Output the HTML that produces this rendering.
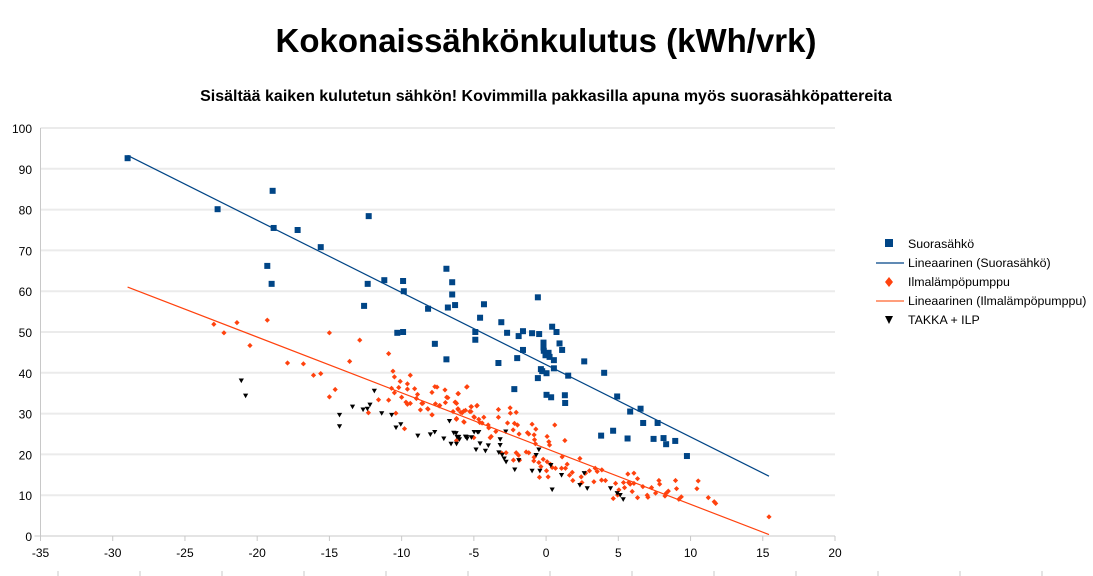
<!DOCTYPE html>
<html><head><meta charset="utf-8"><style>
html,body{margin:0;padding:0;background:#fff;}
svg{display:block;font-family:"Liberation Sans",sans-serif;}
</style></head><body>
<svg id="chart" width="1093" height="576" viewBox="0 0 1093 576">
<text x="546" y="52" text-anchor="middle" font-size="33" font-weight="bold">Kokonaissähkönkulutus (kWh/vrk)</text>
<text x="546" y="101" text-anchor="middle" font-size="16" font-weight="bold">Sisältää kaiken kulutetun sähkön! Kovimmilla pakkasilla apuna myös suorasähköpattereita</text>
<g id="grid"></g><g id="axes"></g><g id="marks"></g>
<g font-size="12.4">
<rect x="885" y="239" width="8" height="8" fill="#004586"/>
<text x="908" y="248">Suorasähkö</text>
<line x1="876" y1="263" x2="904" y2="263" stroke="#004586" stroke-width="1.3"/>
<text x="908" y="267">Lineaarinen (Suorasähkö)</text>
<path d="M889,277 L893,282 L889,287 L885,282Z" fill="#ff420e"/>
<text x="908" y="286">Ilmalämpöpumppu</text>
<line x1="876" y1="301" x2="904" y2="301" stroke="#ff7f50" stroke-width="1.5"/>
<text x="908" y="305">Lineaarinen (Ilmalämpöpumppu)</text>
<path d="M885,316 L893,316 L889,324Z" fill="#000"/>
<text x="908" y="324">TAKKA + ILP</text>
</g>
</svg>
<script>
const xTicks=[-35,-30,-25,-20,-15,-10,-5,0,5,10,15,20];
const yTicks=[0,10,20,30,40,50,60,70,80,90,100];
const blueX=[-28.97,-22.74,-18.93,-18.86,-17.2,-15.6,-19.3,-19.0,-12.28,-12.35,-12.6,-11.2,-9.9,-9.85,-10.3,-9.9,-8.17,-7.7,-6.9,-6.5,-6.5,-6.3,-6.8,-6.9,-4.9,-4.3,-4.57,-4.9,-3.1,-2.7,-3.3,-2.2,-2.0,-1.9,-1.6,-0.97,-0.48,-1.6,-0.57,-0.57,0.42,0.72,0.93,1.11,-0.18,-0.18,-0.16,-0.04,0.17,0.24,0.54,0.54,-0.36,-0.27,0.03,0.03,0.35,1.3,1.32,1.53,2.64,4.02,4.92,5.82,6.54,6.72,7.72,3.81,4.64,5.64,7.44,8.13,8.31,8.94,9.75];
const blueY=[92.6,80.1,84.6,75.5,75.0,70.8,66.2,61.8,78.4,61.8,56.4,62.7,62.5,60.0,49.8,50.0,55.7,47.1,65.5,62.2,59.2,56.6,56.0,43.3,50.0,56.8,53.5,48.1,52.4,49.8,42.4,36.0,43.6,49.0,50.2,49.7,49.5,45.6,38.7,58.5,51.3,50.0,47.2,45.6,47.4,46.2,45.4,44.3,44.9,43.9,43.1,41.1,40.9,40.4,39.9,34.6,34.0,34.5,32.6,39.3,42.8,40.0,34.2,30.5,31.2,27.7,27.7,24.6,25.8,23.9,23.8,24.0,22.5,23.3,19.6];
const ilpX=[-23.0,-22.3,-21.4,-20.5,-19.3,-17.9,-16.8,-16.1,-15.6,-15.0,-14.6,-15.0,-13.6,-12.9,-10.9,-10.6,-10.5,-10.1,-9.4,-9.6,-10.2,-10.7,-10.5,-10.0,-9.6,-9.1,-8.9,-8.98,-11.6,-10.9,-10.4,-9.8,-9.7,-9.6,-9.4,-8.6,-8.7,-8.2,-7.7,-7.55,-7.9,-7.4,-7.9,-7.0,-6.8,-6.1,-6.3,-6.2,-6.1,-5.9,-5.5,-5.7,-5.2,-5.2,-4.8,-5.0,-5.7,-6.2,-6.2,-5.0,-12.3,
-5.47,-6.88,-6.07,-8.54,-7.66,-6.97,-6.28,-7.36,-8.17,-7.89,-6.44,-6.09,-5.81,-5.58,-5.28,-5.17,-4.77,-4.96,-4.66,-4.31,-4.43,-4.01,-3.97,-4.59,-5.67,-6.21,-3.3,-3.3,-2.49,-2.47,-2.07,-2.67,-2.19,-1.98,-2.28,-1.87,-3.48,-3.80,-3.87,-3.07,-2.77,-2.07,-1.91,-2.26,-1.84,-1.29,-1.2,-0.83,-0.97,-0.71,-0.8,-0.74,0.07,0.19,0.24,0.6,1.3,-1.38,-1.2,-0.83,-0.85,-0.5,-0.36,-0.2,0.07,0.3,0.42,0.65,0.03,-0.46,0.14,1.11,1.07,1.34,1.46,1.81,1.62,1.85,2.34,2.43,2.48,2.73,3.0,3.4,3.54,3.86,3.84,4.11,3.31,4.81,5.04,4.95,4.65,5.36,5.43,5.66,5.71,5.82,6.08,6.08,5.96,6.33,6.33,6.7,7.0,7.05,7.3,7.58,7.81,7.86,8.23,8.32,8.46,8.96,9.03,9.19,9.36,10.44,10.53,11.23,11.64,11.74,15.43];
const ilpY=[51.9,49.8,52.3,46.7,52.9,42.4,42.2,39.4,39.8,49.8,35.9,34.1,42.8,48.0,44.7,40.4,39.0,37.9,39.4,37.3,36.4,36.2,35.1,34.0,36.0,36.1,34.7,33.7,33.4,33.3,30.1,26.3,32.8,32.3,32.5,32.5,30.9,31.2,36.6,36.5,35.2,31.9,29.7,35.8,33.9,34.9,32.8,32.5,31.2,30.3,36.5,30.6,30.5,31.7,31.9,29.2,28.0,28.8,23.4,24.1,30.2,
36.6,34.0,34.9,32.5,32.4,32.7,32.8,32.0,31.1,29.7,30.5,31.0,30.2,30.8,30.5,31.7,32.0,29.1,28.6,29.1,27.7,27.2,26.5,27.8,27.9,28.6,31.0,29.1,31.4,30.1,30.3,27.7,27.6,27.2,26.0,25.0,25.6,24.4,24.1,20.3,20.4,20.4,19.8,18.6,18.6,25.3,25.0,24.8,27.4,26.2,23.6,22.6,24.4,23.1,22.3,27.2,23.4,20.6,20.4,19.3,18.4,18.0,17.0,18.8,18.2,17.6,16.8,16.6,16.0,14.4,14.5,19.4,16.6,16.6,17.6,15.6,14.9,13.6,19.0,14.5,13.1,15.4,16.0,16.6,15.8,16.2,13.7,13.6,13.3,12.9,11.3,10.05,9.2,13.1,11.85,15.2,13.1,12.7,15.4,12.9,10.9,14.05,9.4,12.1,10.0,9.5,11.85,10.5,13.6,12.7,9.8,10.5,11.0,13.6,11.6,9.0,9.6,11.6,13.5,9.4,8.4,8.0,4.7];
const takkaX=[-21.1,-20.8,-14.3,-14.3,-13.4,-12.67,-12.37,-12.19,-11.89,-11.38,-10.69,-10.39,-10.06,-8.88,-8.01,-7.71,-7.08,-6.69,-6.58,-6.39,-6.23,-6.16,-6.05,-6.2,-6.0,-5.5,-5.17,-4.98,-4.75,-4.85,-5.58,-5.47,-4.66,-4.57,-4.2,-4.0,-3.18,-3.18,-2.79,-3.27,-3.04,-2.9,-2.77,-2.17,-1.89,-0.97,-0.69,-0.5,-0.43,0.33,0.42,1.07,2.64,2.34,2.85,4.46,5.13,5.34,4.92];
const takkaY=[38.1,34.4,29.7,26.9,31.7,31.0,31.2,32.2,35.6,30.1,29.7,26.6,27.4,24.6,24.9,25.5,23.9,28.2,22.6,25.3,25.2,24.3,24.3,22.6,23.7,24.3,24.2,25.5,25.5,21.2,24.35,23.9,25.5,22.7,20.9,22.2,23.7,22.3,25.6,20.5,19.9,19.0,18.2,16.3,18.6,16.0,19.85,21.2,16.0,17.4,11.4,14.95,15.4,12.5,11.7,11.7,10.05,9.0,10.5];

const NS='http://www.w3.org/2000/svg';
const L=40.5,R=835,T=128,B=536,xMin=-35,xMax=20,yMin=0,yMax=100;
function sx(v){return L+(v-xMin)/(xMax-xMin)*(R-L);}
function sy(v){return B-(v-yMin)/(yMax-yMin)*(B-T);}
function mk(tag,attrs,parent){const e=document.createElementNS(NS,tag);for(const k in attrs)e.setAttribute(k,attrs[k]);parent.appendChild(e);return e;}
const grid=document.getElementById('grid'),axes=document.getElementById('axes'),marks=document.getElementById('marks');
yTicks.forEach(v=>{
  if(v>0){const g=mk('line',{x1:L,x2:R,y1:sy(v),y2:sy(v),stroke:'#ebebeb','stroke-width':2},grid);
  
  }
  const t=mk('text',{x:32,y:sy(v)+5,'text-anchor':'end','font-size':12},axes);t.textContent=v;
  
  
});
xTicks.forEach(v=>{
  const tk=mk('line',{x1:sx(v),x2:sx(v),y1:B,y2:B+5,stroke:'#c8c8c8','stroke-width':1},axes);
  
  
  const t=mk('text',{x:sx(v),y:B+21,'text-anchor':'middle','font-size':12},axes);t.textContent=v;
  
  
});
const ya=mk('line',{x1:L,x2:L,y1:T,y2:B,stroke:'#c8c8c8','stroke-width':1},axes);


const xa=mk('line',{x1:L-6,x2:R,y1:B,y2:B,stroke:'#c8c8c8','stroke-width':1},axes);


for(let i=0;i<13;i++){const m=mk('line',{x1:58+i*82,x2:58+i*82,y1:571,y2:576,stroke:'#c8c8c8'},axes);

}

function regress(xs,ys){const n=xs.length;let mx=0,my=0;for(let i=0;i<n;i++){mx+=xs[i];my+=ys[i];}mx/=n;my/=n;let sxy=0,sxx=0;for(let i=0;i<n;i++){sxy+=(xs[i]-mx)*(ys[i]-my);sxx+=(xs[i]-mx)**2;}const b=sxy/sxx;return [b,my-b*mx];}
const allX=blueX.concat(ilpX,takkaX);
const x0=Math.min(...allX),x1=Math.max(...allX);
function trend(xs,ys,color,w,name){const [b,a]=regress(xs,ys);
  let ya0=a+b*x0,ya1=a+b*x1,xe=x1;
  if(ya1<0){xe=-a/b;ya1=0;}
  const l=mk('line',{x1:sx(x0),y1:sy(ya0),x2:sx(xe),y2:sy(ya1),stroke:color,'stroke-width':w},marks);
  
  }
ilpX.forEach((x,i)=>{const cx=sx(x),cy=sy(ilpY[i]);
  const p=mk('path',{d:`M${cx},${cy-2.6}L${cx+2.6},${cy}L${cx},${cy+2.6}L${cx-2.6},${cy}Z`,fill:'#ff420e'},marks);
  
  });
takkaX.forEach((x,i)=>{const cx=sx(x),cy=sy(takkaY[i]);
  const p=mk('path',{d:`M${cx-2.6},${cy-2}L${cx+2.6},${cy-2}L${cx},${cy+2.6}Z`,fill:'#000'},marks);
  
  });
blueX.forEach((x,i)=>{const cx=sx(x),cy=sy(blueY[i]);
  const r=mk('rect',{x:cx-3,y:cy-3,width:6,height:6,fill:'#004586'},marks);
  
  });
trend(blueX,blueY,'#004586',1.2,'trend-suorasahko');
trend(ilpX,ilpY,'#ff420e',1.2,'trend-ilmalampopumppu');
</script>
</body></html>
